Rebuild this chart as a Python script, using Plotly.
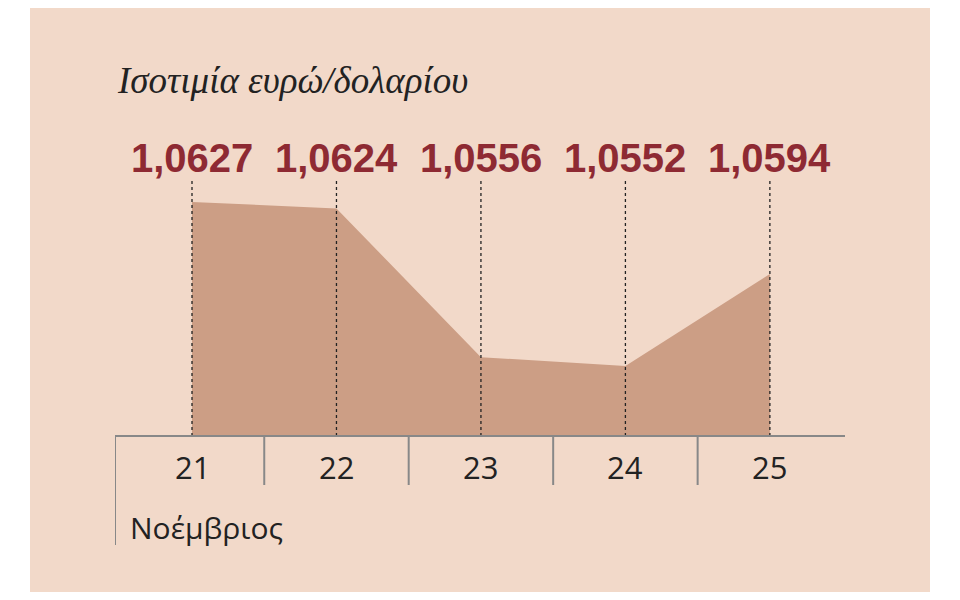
import plotly.graph_objects as go

days = [21, 22, 23, 24, 25]
day_labels = ["21", "22", "23", "24", "25"]
rates = [1.0627, 1.0624, 1.0556, 1.0552, 1.0594]
value_labels = ["1,0627", "1,0624", "1,0556", "1,0552", "1,0594"]

# page body has an 8px margin, so size the figure to fit inside it
OFF = 8
W, H = 960 - 2 * OFF, 600 - 2 * OFF
x0, x1 = 20.467, 25.52
ymin, ytop = 1.0520, 1.0637

def px_(p):
    return (p - OFF) / W

def py(p):
    return (H - (p - OFF)) / H

fig = go.Figure()

fig.add_trace(go.Scatter(x=days, y=rates, mode="lines", fill="tozeroy",
                         fillcolor="#cc9e85", line=dict(color="#cc9e85", width=0),
                         hoverinfo="skip"))

shapes = [dict(type="rect", xref="paper", yref="paper", x0=px_(30), x1=px_(930),
               y0=-0.05, y1=1.05, fillcolor="#f2d9c9", line_width=0, layer="below")]
# dashed drop lines
for d, r in zip(days, rates):
    shapes.append(dict(type="line", xref="x", yref="y", x0=d, x1=d, y0=ymin, y1=ytop,
                       line=dict(color="#222", width=1.3, dash="3px,3px")))
# axis line and separators
shapes.append(dict(type="line", xref="x", yref="paper", x0=x0, x1=x1,
                   y0=py(436), y1=py(436), line=dict(color="#888", width=2)))
shapes.append(dict(type="line", xref="x", yref="paper", x0=x0, x1=x0,
                   y0=py(436), y1=py(545), line=dict(color="#888", width=2)))
for d in days[:-1]:
    shapes.append(dict(type="line", xref="x", yref="paper", x0=d + 0.5, x1=d + 0.5,
                       y0=py(436), y1=py(485), line=dict(color="#888", width=2)))

ann = [dict(text="Ισοτιμία ευρώ/δολαρίου", xref="paper", yref="paper", x=px_(115), y=py(80),
            xanchor="left", yanchor="middle", showarrow=False,
            font=dict(family="Liberation Serif", size=37, color="#222", style="italic")),
       dict(text="Νοέμβριος", xref="paper", yref="paper", x=px_(128), y=py(527),
            xanchor="left", yanchor="middle", showarrow=False,
            font=dict(family="Open Sans", size=30, color="#222"))]
for d, t in zip(days, value_labels):
    ann.append(dict(text="<b>" + t + "</b>", x=d, xref="x", yref="paper", y=py(158),
                    yanchor="middle", showarrow=False,
                    font=dict(family="Liberation Sans Narrow, Liberation Sans", size=40, color="#8e2a33")))
for d, t in zip(days, day_labels):
    ann.append(dict(text=t, x=d, xref="x", yref="paper", y=py(467),
                    yanchor="middle", showarrow=False,
                    font=dict(family="Open Sans", size=31, color="#222")))

fig.update_layout(
    width=W, height=H, margin=dict(l=0, r=0, t=0, b=0),
    paper_bgcolor="white", plot_bgcolor="rgba(0,0,0,0)",
    showlegend=False, shapes=shapes, annotations=ann,
    xaxis=dict(domain=[px_(115), px_(845)], range=[x0, x1], visible=False),
    yaxis=dict(domain=[py(436), py(180)], range=[ymin, ytop], visible=False),
)

fig.write_html("out.html")
